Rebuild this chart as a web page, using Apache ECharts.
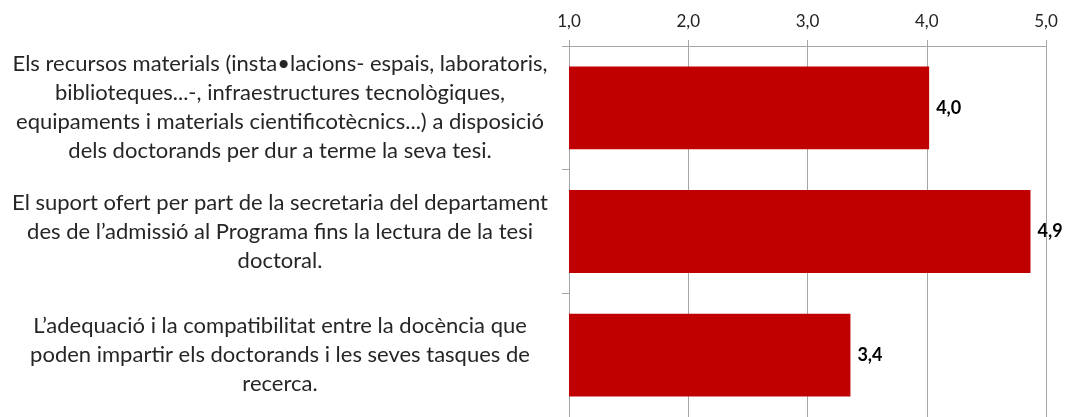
<!DOCTYPE html>
<html>
<head>
<meta charset="utf-8">
<script src="https://cdn.jsdelivr.net/npm/echarts@6/dist/echarts.min.js"></script>
<style>
  html, body { margin: 0; padding: 0; background: #fff; }
  #chart { width: 1088px; height: 417px; }
</style>
</head>
<body>
<div id="chart"></div>
<script>
// categories (top to bottom)
const categories = [
    'Els recursos materials (insta•lacions- espais, laboratoris,\nbiblioteques...-, infraestructures tecnològiques,\nequipaments i materials cientificotècnics...) a disposició\ndels doctorands per dur a terme la seva tesi.',
    'El suport ofert per part de la secretaria del departament\ndes de l’admissió al Programa fins la lectura de la tesi\ndoctoral.',
    'L’adequació i la compatibilitat entre la docència que\npoden impartir els doctorands i les seves tasques de\nrecerca.'
];
const values = [4.02, 4.87, 3.36];
const tickLabels = ['1,0', '2,0', '3,0', '4,0', '5,0'];

const fontFamily = 'Lato, "Open Sans", sans-serif';
const chart = echarts.init(document.getElementById('chart'));

chart.setOption({
    animation: false,
    grid: {
        left: 569,
        right: 42,
        top: 46,
        height: 375
    },
    xAxis: {
        type: 'value',
        position: 'top',
        min: 1,
        max: 5,
        interval: 1,
        axisLine: { show: true, lineStyle: { color: '#A6A6A6' } },
        axisTick: { show: true, length: 6, lineStyle: { color: '#A6A6A6' } },
        splitLine: { show: true, lineStyle: { color: '#A6A6A6' } },
        axisLabel: {
            margin: 16,
            fontSize: 17,
            color: '#222',
            fontFamily: fontFamily,
            formatter: function (v) {
                return tickLabels[Math.round(v) - 1];
            }
        }
    },
    yAxis: {
        type: 'category',
        inverse: true,
        data: categories,
        axisLine: { show: true, lineStyle: { color: '#A6A6A6' } },
        axisTick: { show: true, length: 7, lineStyle: { color: '#A6A6A6' } },
        axisLabel: {
            align: 'center',
            margin: 289,
            fontSize: 22,
            lineHeight: 29,
            color: '#262626',
            fontFamily: fontFamily
        }
    },
    series: [{
        type: 'bar',
        data: values,
        barCategoryGap: '33%',
        itemStyle: { color: '#C00000' },
        label: {
            show: true,
            position: 'right',
            distance: 7,
            fontSize: 18,
            fontWeight: 'bold',
            color: '#000',
            fontFamily: fontFamily,
            formatter: function (p) {
                return p.value.toFixed(1).replace('.', ',');
            }
        }
    }]
});
</script>
</body>
</html>
